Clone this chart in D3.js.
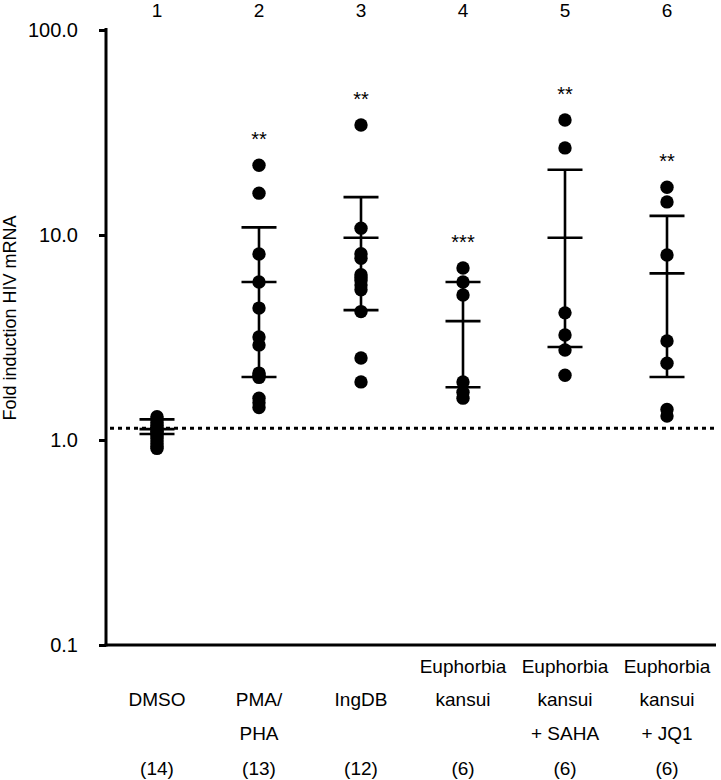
<!DOCTYPE html>
<html>
<head>
<meta charset="utf-8">
<script src="https://cdn.jsdelivr.net/npm/d3@7"></script>
<style>
  html, body { margin: 0; padding: 0; background: #fff; }
  svg text { font-family: "Liberation Sans", Arial, sans-serif; fill: #000; }
</style>
</head>
<body>
<svg id="chart" width="721" height="780"></svg>
<script>
// ---------------- data ----------------
const categories = ["DMSO", "PMA/PHA", "IngDB", "Euphorbia kansui", "Euphorbia kansui + SAHA", "Euphorbia kansui + JQ1"];
const groupNumbers = ["1", "2", "3", "4", "5", "6"];
const labelLines = [
  ["", "DMSO", ""],
  ["", "PMA/", "PHA"],
  ["", "IngDB", ""],
  ["Euphorbia", "kansui", ""],
  ["Euphorbia", "kansui", "+ SAHA"],
  ["Euphorbia", "kansui", "+ JQ1"]
];
const sampleSizes = ["(14)", "(13)", "(12)", "(6)", "(6)", "(6)"];
const significance = ["", "**", "**", "***", "**", "**"];

const dmsoValues = [1.30, 1.27, 1.22, 1.18, 1.15, 1.12, 1.10, 1.08, 1.05, 1.02, 0.99, 0.96, 0.93, 0.91];
const pmaPhaValues = [21.9, 16.0, 8.08, 5.9, 4.4, 3.18, 2.91, 2.12, 2.07, 2.02, 1.60, 1.52, 1.44];
const ingdbValues = [34.4, 10.8, 8.1, 7.7, 6.4, 6.2, 6.0, 5.7, 5.4, 4.23, 2.51, 1.92];
const ekValues = [6.9, 5.9, 5.1, 1.92, 1.71, 1.60];
const ekSahaValues = [36.4, 26.6, 4.17, 3.25, 2.75, 2.07];
const ekJq1Values = [17.1, 14.5, 7.99, 3.04, 2.37, 1.41, 1.31];

const means = [1.13, 5.9, 9.7, 3.8, 9.7, 6.5];
const upperBars = [1.26, 10.9, 15.3, 5.9, 20.8, 12.4];
const lowerBars = [1.07, 2.03, 4.3, 1.81, 2.84, 2.03];

const referenceLevel = 1.14;
const yTicks = [0.1, 1, 10, 100];
const yLabel = "Fold induction HIV mRNA";

// ---------------- layout ----------------
const groupValues = [dmsoValues, pmaPhaValues, ingdbValues, ekValues, ekSahaValues, ekJq1Values];
const axisX = 106, plotRight = 716, plotTop = 30, plotBottom = 645;
const fontFam = '"Liberation Sans", Arial, sans-serif';

const svg = d3.select("#chart");

const y = d3.scaleLog().domain([0.1, 100]).range([plotBottom, plotTop]);
const x = d3.scalePoint().domain(categories).range([157, 667]);

// y axis
const yAxis = d3.axisLeft(y)
  .tickValues(yTicks)
  .tickFormat(d3.format(".1f"))
  .tickSize(7)
  .tickSizeOuter(0)
  .tickPadding(21);

const yg = svg.append("g").attr("transform", `translate(${axisX},0)`).call(yAxis);
yg.select(".domain").attr("stroke", "#000").attr("stroke-width", 3)
  .attr("d", `M0,${plotTop - 2}V${plotBottom + 1.5}`);
yg.selectAll(".tick line").attr("stroke", "#000").attr("stroke-width", 3);
yg.selectAll(".tick text")
  .style("font-family", fontFam)
  .style("font-size", "20px")
  .attr("fill", "#000");

// x baseline
svg.append("line")
  .attr("x1", axisX - 1.5).attr("x2", plotRight)
  .attr("y1", y(0.1)).attr("y2", y(0.1))
  .attr("stroke", "#000").attr("stroke-width", 3);

// dotted reference line
svg.append("line")
  .attr("x1", axisX + 4).attr("x2", plotRight)
  .attr("y1", y(referenceLevel)).attr("y2", y(referenceLevel))
  .attr("stroke", "#000").attr("stroke-width", 3)
  .attr("stroke-dasharray", "4 4");

// y label
svg.append("text")
  .attr("transform", `translate(16, 318) rotate(-90)`)
  .attr("text-anchor", "middle")
  .style("font-size", "18px")
  .text(yLabel);

// groups
const capW = 17.5;
categories.forEach((c, i) => {
  const cx = x(c);
  const g = svg.append("g");
  const eb = g.append("g").attr("stroke", "#000").attr("stroke-width", 2.6);
  eb.append("line").attr("x1", cx).attr("x2", cx).attr("y1", y(upperBars[i])).attr("y2", y(lowerBars[i]));
  [upperBars[i], means[i], lowerBars[i]].forEach(v => {
    eb.append("line").attr("x1", cx - capW).attr("x2", cx + capW).attr("y1", y(v)).attr("y2", y(v));
  });
  g.selectAll("circle").data(groupValues[i]).join("circle")
    .attr("cx", cx).attr("cy", d => y(d)).attr("r", 6.7).attr("fill", "#000");

  if (significance[i]) {
    g.append("text")
      .attr("x", cx).attr("y", y(d3.max(groupValues[i])) - 31 + 12)
      .attr("text-anchor", "middle")
      .style("font-size", "20px")
      .text(significance[i]);
  }
});

// top group numbers
svg.selectAll(".gnum").data(groupNumbers).join("text")
  .attr("class", "gnum")
  .attr("x", (d, i) => x(categories[i]))
  .attr("y", 17)
  .attr("text-anchor", "middle")
  .style("font-size", "19px")
  .text(d => d);

// category labels
const rowY = [673, 706, 740];
labelLines.forEach((lines, i) => {
  lines.forEach((t, r) => {
    if (!t) return;
    svg.append("text")
      .attr("x", x(categories[i]))
      .attr("y", rowY[r])
      .attr("text-anchor", "middle")
      .style("font-size", "19px")
      .text(t);
  });
});

// sample sizes
svg.selectAll(".nlab").data(sampleSizes).join("text")
  .attr("class", "nlab")
  .attr("x", (d, i) => x(categories[i]))
  .attr("y", 775)
  .attr("text-anchor", "middle")
  .style("font-size", "19px")
  .text(d => d);
</script>
</body>
</html>
